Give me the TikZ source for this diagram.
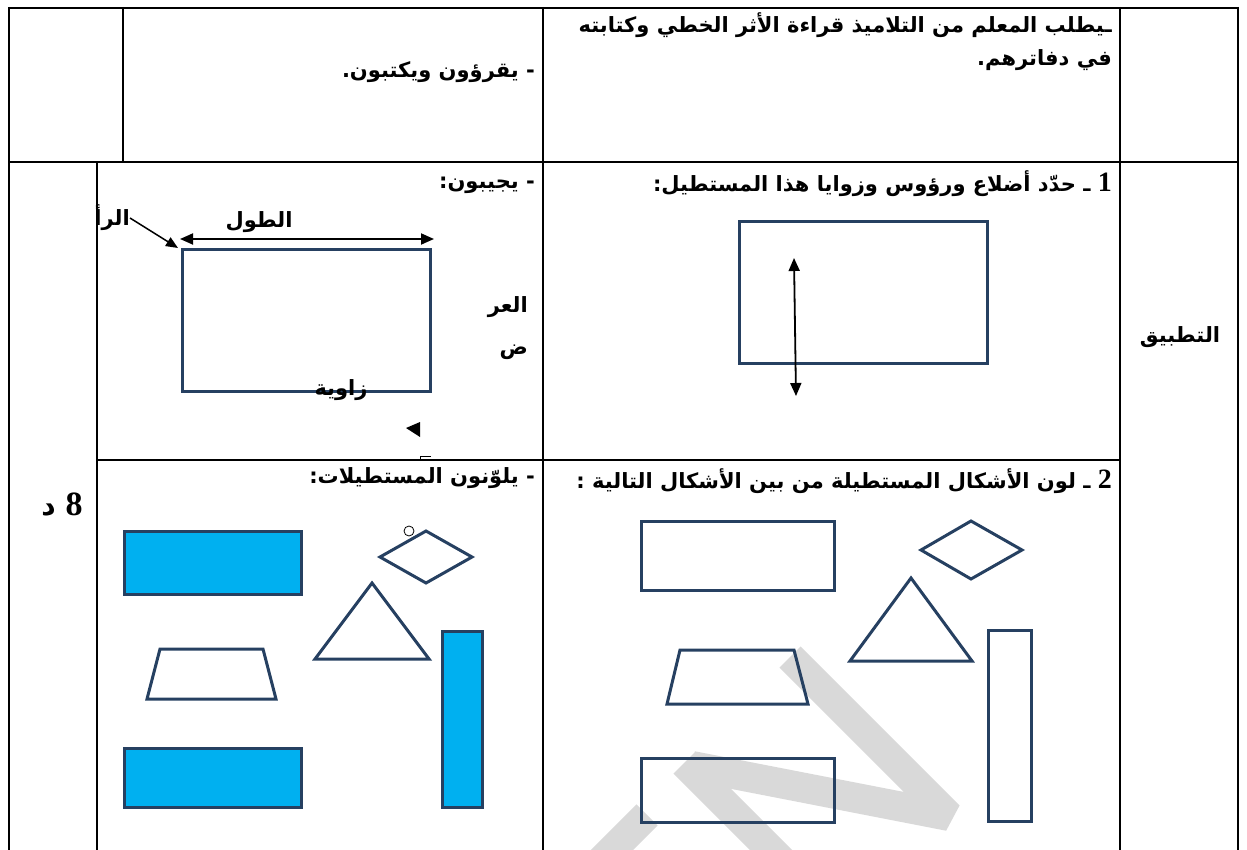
\documentclass[tikz,border=0pt]{standalone}
\usepackage{fontspec}
\usetikzlibrary{arrows.meta}
\TeXXeTstate=1
\newfontfamily\arabicfont[Script=Arabic]{DejaVu Sans}
\newfontfamily\digitfont{Liberation Serif}
\definecolor{shapeblue}{RGB}{38,64,97}
\definecolor{shapefill}{RGB}{0,176,240}
\tikzset{
  rule/.style={line width=2pt, black},
  shp/.style={draw=shapeblue, line width=3pt},
  colr/.style={shp, fill=shapefill},
  ar/.style={font=\arabicfont\bfseries\fontsize{21}{33}\selectfont, inner sep=0pt},
  dbl/.style={line width=1.8pt, {Triangle[length=13pt,width=11pt]}-{Triangle[length=13pt,width=11pt]}},
  wm/.style={line width=30pt, black!15, line cap=butt, line join=bevel}
}
\newcommand\dig[2][28]{{\digitfont\bfseries\fontsize{#1}{30}\selectfont #2}}
\begin{document}
\begin{tikzpicture}[x=1pt,y=-1pt]
    \useasboundingbox (0,0) rectangle (1247,850);
    \draw [wm] (590,872) -- (647,815);
    \draw [wm] (784,863) -- (684,763);
    \draw [wm] (692,766) -- (949,816) -- (790,657);
    \draw [rule] (8,8) -- (1239,8);
    \draw [rule] (8,162) -- (1239,162);
    \draw [rule] (97,460) -- (1120,460);
    \draw [rule] (9,7) -- (9,850);
    \draw [rule] (123,7) -- (123,162);
    \draw [rule] (97,162) -- (97,850);
    \draw [rule] (543,7) -- (543,850);
    \draw [rule] (1120,7) -- (1120,850);
    \draw [rule] (1238,7) -- (1238,850);
    \node [ar, anchor=north east, align=right] (hdr) at (1112,12)
      {\beginR ـيطلب المعلم من التلاميذ قراءة الأثر الخطي وكتابته\endR\\\beginR في دفاترهم.\endR};
    \node [ar, anchor=east] (reply1) at (535,72) {\beginR - يقرؤون ويكتبون.\endR};
    \node [ar, anchor=east] (q1) at (1112,184) {\beginR\dig{1} ـ حدّد أضلاع ورؤوس وزوايا هذا المستطيل:\endR};
    \node [ar, anchor=east] (reply2) at (535,185) {\beginR - يجيبون:\endR};
    \node [ar, anchor=east] (q2) at (1112,481) {\beginR\dig{2} ـ لون الأشكال المستطيلة من بين الأشكال التالية :\endR};
    \node [ar, anchor=east] (reply3) at (535,478) {\beginR - يلوّنون المستطيلات:\endR};
    \node [ar] (stage) at (1180,337) {\beginR التطبيق\endR};
    \node [ar, font=\arabicfont\bfseries\fontsize{28}{33}\selectfont] (time) at (62,505) {\beginR\dig[34]{8} د\endR};
    \draw [shp] (182,250) rectangle (430,391);
    \coordinate (lenA) at (180,239);
    \coordinate (lenB) at (434,239);
    \draw [dbl] (lenA) -- (lenB);
    \node [ar] (lenlbl) at (259,222) {\beginR الطول\endR};
    \node [ar, anchor=east] (ra) at (130,218) {\beginR الرأ\endR};
    \coordinate (vtx) at (178,248);
    \draw [line width=1.5pt, -{Triangle[length=12pt,width=10pt]}] (ra.east) -- (vtx);
    \node [ar, anchor=north east, align=right, font=\arabicfont\bfseries\fontsize{21}{42}\selectfont] (wid) at (528,296)
      {\beginR العر\endR\\\beginR ض\endR};
    \node [ar] (ang) at (341,390) {\beginR زاوية\endR};
    \fill [black] (406,428) -- (420,422) -- (420,437) -- cycle;
    \draw [line width=1pt] (431,456) -- (420,456) -- (420,461);
    \draw [shp] (739,222) rectangle (987,363);
    \coordinate (widA) at (794,258);
    \coordinate (widB) at (796,396);
    \draw [dbl] (widA) -- (widB);
    \draw [colr] (124,531) rectangle (301,594);
    \draw [colr] (124,748) rectangle (301,807);
    \draw [colr] (442,631) rectangle (482,807);
    \draw [shp] (380,557) -- (426,531) -- (472,557) -- (426,583) -- cycle;
    \draw [line width=0.8pt] (409,531) circle (5);
    \draw [shp] (372,583) -- (429,659) -- (315,659) -- cycle;
    \draw [shp] (160,649) -- (263,649) -- (276,699) -- (147,699) -- cycle;
    \draw [shp] (641,521) rectangle (834,590);
    \draw [shp] (641,758) rectangle (834,822);
    \draw [shp] (988,630) rectangle (1031,821);
    \draw [shp] (921,550) -- (971,521) -- (1022,550) -- (971,579) -- cycle;
    \draw [shp] (911,578) -- (972,661) -- (850,661) -- cycle;
    \draw [shp] (680,650) -- (794,650) -- (808,704) -- (667,704) -- cycle;
\end{tikzpicture}
\end{document}
